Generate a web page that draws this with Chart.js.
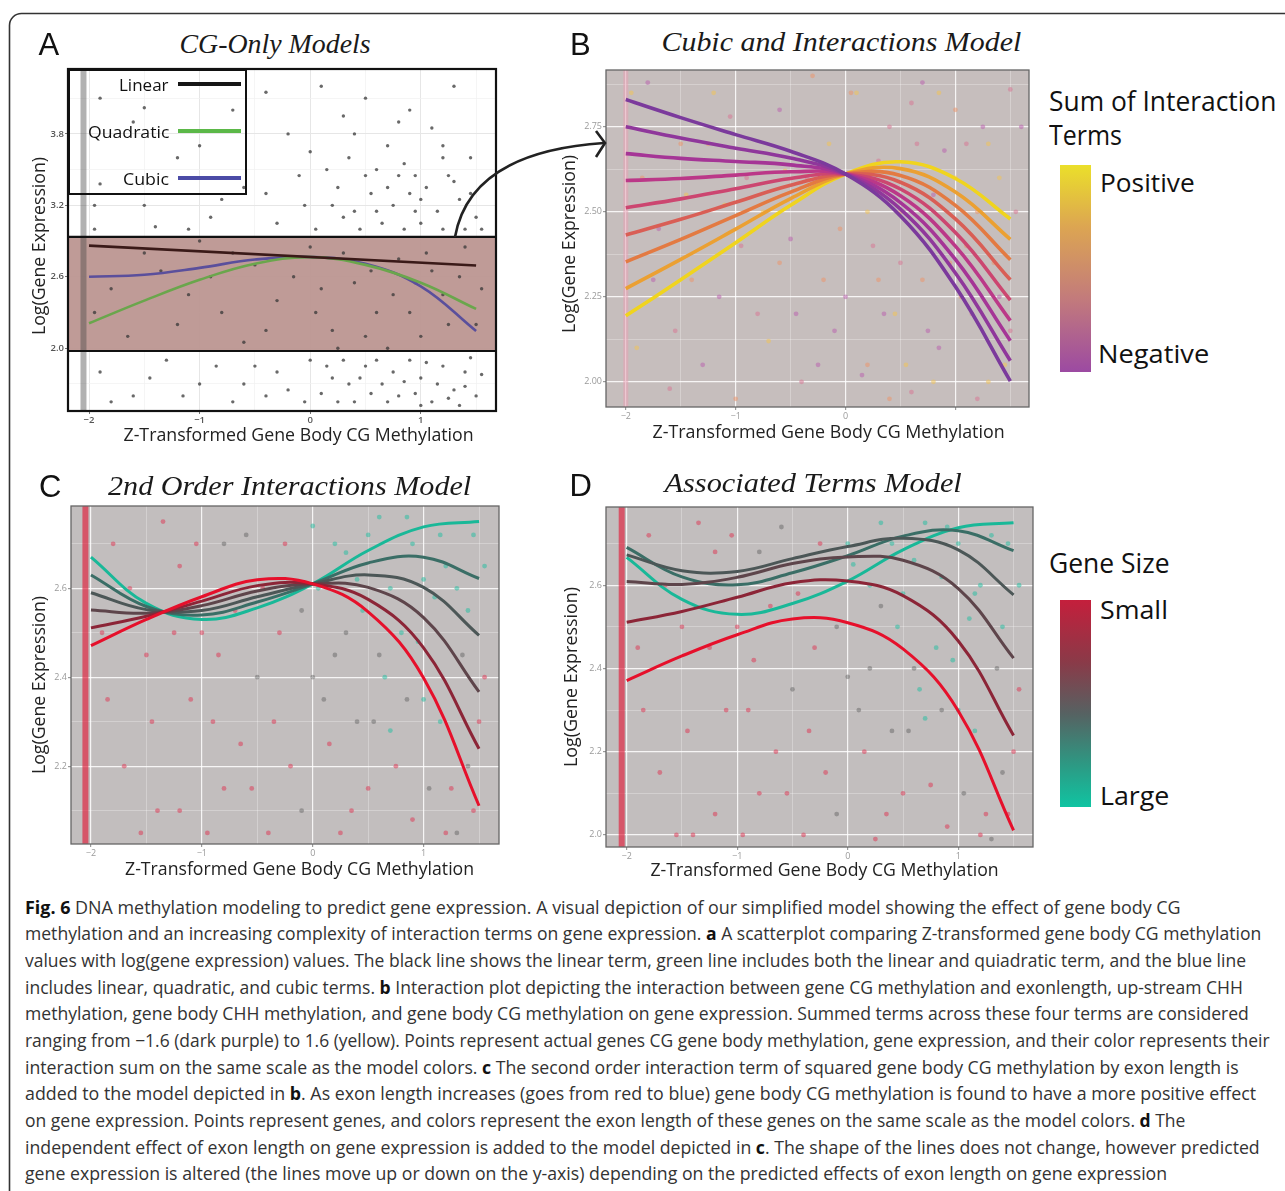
<!DOCTYPE html>
<html><head><meta charset="utf-8">
<script src="https://cdn.jsdelivr.net/npm/chart.js@4.4.1/dist/chart.umd.min.js"></script>
<style>
html,body{margin:0;padding:0;background:#fff;}
body{width:1285px;height:1191px;position:relative;overflow:hidden;font-family:"Open Sans",sans-serif;color:#222;}
canvas{position:absolute;}
.t{position:absolute;white-space:nowrap;line-height:1;left:0;top:0;}
.ser{font-family:"Liberation Serif",serif;font-style:italic;color:#1a1a1a;font-size:28px;}
.let{font-family:"Liberation Sans",Arial,sans-serif;color:#111;font-size:31px;}
.ax{font-family:"Open Sans",sans-serif;font-size:18px;color:#222;}
.leg{font-family:"Open Sans",sans-serif;color:#111;}
.cap{font-family:"Open Sans",sans-serif;font-size:18px;color:#333;}
.cap b{color:#111;}
.abs{position:absolute;}
svg.ov{position:absolute;left:0;top:0;z-index:3;pointer-events:none;}
</style></head><body>

<canvas id="cA" width="484" height="370" style="left:20px;top:60px"></canvas>
<canvas id="cB" width="465" height="365" style="left:570px;top:60px"></canvas>
<canvas id="cC" width="484" height="370" style="left:20px;top:496px"></canvas>
<canvas id="cD" width="468" height="370" style="left:570px;top:497px"></canvas>

<!-- Panel A legend box -->
<div class="abs" style="left:68px;top:69px;width:179px;height:126px;border:2px solid #111;box-sizing:border-box;z-index:2"></div>
<div class="abs" style="left:178px;top:82px;width:63px;height:4px;background:#161616;z-index:2"></div>
<div class="abs" style="left:178px;top:129px;width:63px;height:4px;background:#5bb848;z-index:2"></div>
<div class="abs" style="left:178px;top:176px;width:63px;height:4px;background:#4b4ba6;z-index:2"></div>

<!-- colour bars -->
<div class="abs" style="left:1060px;top:165px;width:31px;height:207px;background:linear-gradient(#ebdf2a,#dca552 30%,#c27a7c 65%,#9c4aa2)"></div>
<div class="abs" style="left:1060px;top:600px;width:31px;height:207px;background:linear-gradient(#c41f3c,#8a3a48 30%,#566262 55%,#2c9a84 80%,#10c4a2)"></div>

<svg class="ov" width="1285" height="1191">
  <rect x="9.5" y="13.5" width="1400" height="1300" rx="12" ry="12" fill="none" stroke="#333" stroke-width="1.6"/>
  <path d="M455,237 Q470,152 604,143" fill="none" stroke="#222" stroke-width="2.6"/>
  <polyline points="596,131 605,143 596,157" fill="none" stroke="#222" stroke-width="2.6"/>
</svg>

<!-- panel letters and titles -->
<div class="t let" data-x="49" data-y="44">A</div>
<div class="t let" data-x="580.5" data-y="44">B</div>
<div class="t let" data-x="50" data-y="486">C</div>
<div class="t let" data-x="580.5" data-y="485">D</div>
<div class="t ser" data-x="274.5" data-y="44" data-w="191">CG-Only Models</div>
<div class="t ser" data-x="841" data-y="42" data-w="360">Cubic and Interactions Model</div>
<div class="t ser" data-x="289" data-y="486" data-w="363">2nd Order Interactions Model</div>
<div class="t ser" data-x="813" data-y="483" data-w="297">Associated Terms Model</div>

<!-- axis titles -->
<div class="t ax" data-x="298.3" data-y="434" data-w="350">Z-Transformed Gene Body CG Methylation</div>
<div class="t ax" data-x="37.5" data-y="246" data-w="178" data-r="-90">Log(Gene Expression)</div>
<div class="t ax" data-x="828" data-y="431" data-w="352">Z-Transformed Gene Body CG Methylation</div>
<div class="t ax" data-x="567" data-y="244" data-w="178" data-r="-90">Log(Gene Expression)</div>
<div class="t ax" data-x="299.5" data-y="868" data-w="349">Z-Transformed Gene Body CG Methylation</div>
<div class="t ax" data-x="37.5" data-y="685" data-w="178" data-r="-90">Log(Gene Expression)</div>
<div class="t ax" data-x="824" data-y="869" data-w="348">Z-Transformed Gene Body CG Methylation</div>
<div class="t ax" data-x="569.5" data-y="677" data-w="180" data-r="-90">Log(Gene Expression)</div>

<!-- legend A texts -->
<div class="t leg" style="font-size:17px;z-index:2" data-a="r" data-x="169" data-y="84" data-w="50">Linear</div>
<div class="t leg" style="font-size:17px;z-index:2" data-a="r" data-x="169" data-y="131" data-w="81">Quadratic</div>
<div class="t leg" style="font-size:17px;z-index:2" data-a="r" data-x="169" data-y="178" data-w="46">Cubic</div>

<!-- legend B / D texts -->
<div class="t leg" style="font-size:28px" data-a="l" data-x="1048.6" data-y="100" data-w="227">Sum of Interaction</div>
<div class="t leg" style="font-size:28px" data-a="l" data-x="1048.6" data-y="134" data-w="73">Terms</div>
<div class="t leg" style="font-size:26px" data-a="l" data-x="1099.5" data-y="181.5" data-w="95">Positive</div>
<div class="t leg" style="font-size:26px" data-a="l" data-x="1098" data-y="353" data-w="111">Negative</div>
<div class="t leg" style="font-size:28px" data-a="l" data-x="1048.6" data-y="562" data-w="121">Gene Size</div>
<div class="t leg" style="font-size:26px" data-a="l" data-x="1099.5" data-y="609" data-w="68">Small</div>
<div class="t leg" style="font-size:26px" data-a="l" data-x="1099.5" data-y="795" data-w="69">Large</div>

<!-- caption -->
<div class="t cap" data-a="l" data-x="25" data-y="906.7" data-w="1156"><b>Fig. 6</b> DNA methylation modeling to predict gene expression. A visual depiction of our simplified model showing the effect of gene body CG</div>
<div class="t cap" data-a="l" data-x="25" data-y="933.3" data-w="1236">methylation and an increasing complexity of interaction terms on gene expression. <b>a</b> A scatterplot comparing Z-transformed gene body CG methylation</div>
<div class="t cap" data-a="l" data-x="25" data-y="960" data-w="1221">values with log(gene expression) values. The black line shows the linear term, green line includes both the linear and quiadratic term, and the blue line</div>
<div class="t cap" data-a="l" data-x="25" data-y="986.7" data-w="1218">includes linear, quadratic, and cubic terms. <b>b</b> Interaction plot depicting the interaction between gene CG methylation and exonlength, up-stream CHH</div>
<div class="t cap" data-a="l" data-x="25" data-y="1013.3" data-w="1224">methylation, gene body CHH methylation, and gene body CG methylation on gene expression. Summed terms across these four terms are considered</div>
<div class="t cap" data-a="l" data-x="25" data-y="1040" data-w="1245">ranging from −1.6 (dark purple) to 1.6 (yellow). Points represent actual genes CG gene body methylation, gene expression, and their color represents their</div>
<div class="t cap" data-a="l" data-x="25" data-y="1066.7" data-w="1214">interaction sum on the same scale as the model colors. <b>c</b> The second order interaction term of squared gene body CG methylation by exon length is</div>
<div class="t cap" data-a="l" data-x="25" data-y="1093.3" data-w="1231">added to the model depicted in <b>b</b>. As exon length increases (goes from red to blue) gene body CG methylation is found to have a more positive effect</div>
<div class="t cap" data-a="l" data-x="25" data-y="1120" data-w="1160">on gene expression. Points represent genes, and colors represent the exon length of these genes on the same scale as the model colors. <b>d</b> The</div>
<div class="t cap" data-a="l" data-x="25" data-y="1146.7" data-w="1235">independent effect of exon length on gene expression is added to the model depicted in <b>c</b>. The shape of the lines does not change, however predicted</div>
<div class="t cap" data-a="l" data-x="25" data-y="1173.3" data-w="1142">gene expression is altered (the lines move up or down on the y-axis) depending on the predicted effects of exon length on gene expression</div>

<script>
// ---------------- DATA ----------------
const curveX = [-2, -1.5, -1, -0.5, 0, 0.5, 1, 1.5];
const xMajorTicks = [-2, -1, 0, 1];
const xMajorLabels = ['−2', '−1', '0', '1'];
const xMajorLabelsB = ['−2', '−1', '0', ''];
const xMinorTicks = [-1.5, -0.5, 0.5, 1.5];

// Panel A
const aXRange = [-2.19, 1.68];
const aYRange = [1.473, 4.345];
const aYTicks = [2.0, 2.6, 3.2, 3.8];
const aYTickLabels = ['2.0', '2.6', '3.2', '3.8'];
const aYMinor = [1.7, 2.3, 2.9, 3.5, 4.1];
const aBand = [1.977, 2.936];
const aStripeX = -2.05;
const aLinearX = [-2, 1.5];
const aLinearY = [2.862, 2.695];
const aQuadraticY = [2.21, 2.40, 2.575, 2.71, 2.765, 2.70, 2.55, 2.33];
const aCubicY = [2.60, 2.617, 2.675, 2.745, 2.766, 2.71, 2.52, 2.145];
const aPoints = [
  [-1.9,4.1],[-1.6,3.9],[-1.5,4.02],[-1.0,3.7],[-0.7,4.0],[-0.4,4.15],[-0.2,3.8],[0.1,4.2],[0.3,3.95],[0.5,4.1],[0.7,3.7],[0.9,4.0],[1.1,3.85],[1.3,4.2],[1.45,3.6],
  [-1.9,3.38],[-1.5,3.2],[-1.2,3.6],[-0.9,3.1],[-0.6,3.35],[-0.3,3.05],[-0.1,3.45],[0.2,3.2],[0.35,3.6],[0.55,3.3],[0.65,3.05],[0.8,3.45],[0.95,3.15],[1.05,3.35],[1.2,3.0],[1.35,3.25],[1.5,3.1],[0.45,3.0],[0.75,3.2],[1.0,3.05],[0.15,3.5],[0.6,3.5],[0.9,3.3],[1.25,3.45],[1.4,3.0],[0.3,3.1],[0.85,3.0],
  [0.05,3.0],[0.25,3.35],[0.4,3.15],[0.5,3.45],[0.7,3.35],[0.85,3.55],[1.0,3.25],[1.15,3.15],[1.3,3.4],[1.45,3.3],[1.55,3.0],[0.6,3.15],[0.95,3.45],[1.2,3.6],[-0.05,3.2],[-0.4,3.3],[-0.8,3.25],[-1.1,3.0],[-1.4,3.02],[-1.95,3.0],[-1.95,3.2],[0.0,3.65],[0.4,3.8],[0.8,3.9],[1.2,3.7],
  [-1.9,1.8],[-1.6,1.6],[-1.3,1.9],[-1.0,1.7],[-0.7,1.55],[-0.5,1.85],[-0.2,1.65],[0.0,1.9],[0.2,1.75],[0.4,1.55],[0.5,1.85],[0.65,1.7],[0.8,1.6],[0.9,1.9],[1.0,1.75],[1.1,1.55],[1.2,1.85],[1.3,1.65],[1.4,1.8],[1.5,1.6],[-0.4,1.6],[0.3,1.9],[0.75,1.8],[1.15,1.7],[1.35,1.52],[0.95,1.62],[0.55,1.62],[1.45,1.92],
  [-1.8,1.55],[-1.45,1.75],[-1.15,1.6],[-0.85,1.85],[-0.6,1.7],[-0.3,1.8],[-0.05,1.55],[0.1,1.62],[0.25,1.55],[0.35,1.7],[0.45,1.75],[0.6,1.9],[0.7,1.55],[0.85,1.72],[1.05,1.88],[1.25,1.58],[1.4,1.68],[1.55,1.78],[1.0,1.52],[0.15,1.85],
  [-1.8,2.5],[-1.5,2.8],[-1.2,2.2],[-0.9,2.6],[-0.6,2.05],[-0.3,2.4],[0.0,2.85],[0.2,2.15],[0.4,2.55],[0.6,2.3],[0.8,2.75],[1.0,2.1],[1.2,2.45],[1.4,2.85],[1.5,2.2],[-1.0,2.9],[0.1,2.5],[0.7,2.0],[1.1,2.65],[-0.5,2.7],
  [-1.95,2.3],[-1.65,2.1],[-1.35,2.65],[-1.1,2.45],[-0.8,2.3],[-0.7,2.8],[-0.4,2.15],[-0.15,2.6],[0.05,2.3],[0.3,2.8],[0.5,2.1],[0.55,2.65],[0.75,2.45],[0.9,2.3],[1.05,2.8],[1.25,2.2],[1.35,2.6],[1.55,2.5],[0.25,2.0],[0.95,2.55]
];

// Panel B (nine interaction-sum levels, negative -> positive)
const bXRange = [-2.18, 1.67];
const bYRange = [1.926, 2.917];
const bYTicks = [2.0, 2.25, 2.5, 2.75];
const bYTickLabels = ['2.00', '2.25', '2.50', '2.75'];
const bYMinor = [2.125, 2.375, 2.625, 2.875];
const bStripeX = -2.0;
const bCurve1 = [2.830, 2.777, 2.727, 2.678, 2.611, 2.488, 2.280, 2.002];
const bCurve2 = [2.750, 2.717, 2.687, 2.658, 2.611, 2.508, 2.320, 2.062];
const bCurve3 = [2.671, 2.657, 2.648, 2.638, 2.611, 2.527, 2.360, 2.121];
const bCurve4 = [2.592, 2.598, 2.608, 2.618, 2.611, 2.547, 2.399, 2.180];
const bCurve5 = [2.512, 2.538, 2.568, 2.598, 2.611, 2.567, 2.439, 2.240];
const bCurve6 = [2.432, 2.478, 2.528, 2.578, 2.611, 2.587, 2.479, 2.300];
const bCurve7 = [2.353, 2.419, 2.489, 2.558, 2.611, 2.607, 2.519, 2.359];
const bCurve8 = [2.274, 2.360, 2.449, 2.539, 2.611, 2.627, 2.558, 2.419];
const bCurve9 = [2.194, 2.300, 2.409, 2.519, 2.611, 2.647, 2.598, 2.479];
const bPoints = [
  [-1.8,2.88],[-1.5,2.7],[-1.2,2.85],[-0.9,2.6],[-0.6,2.8],[-0.3,2.9],[0.1,2.85],[0.4,2.75],[0.7,2.88],[1.0,2.8],[1.3,2.7],[1.5,2.86],
  [-1.7,2.45],[-1.4,2.3],[-1.1,2.52],[-0.8,2.2],[-0.5,2.42],[-0.2,2.3],[0.2,2.5],[0.5,2.35],[0.8,2.55],[1.1,2.4],[1.4,2.6],[0.3,2.65],[0.9,2.68],[1.2,2.5],
  [-1.9,2.1],[-1.6,1.98],[-1.3,2.05],[-1.0,1.95],[-0.7,2.12],[-0.4,2.0],[-0.1,2.15],[0.2,2.05],[0.45,2.2],[0.6,1.97],[0.85,2.1],[1.05,2.25],[1.3,2.0],[1.5,2.15],[0.0,2.25],[0.7,2.3],
  [0.1,2.6],[0.25,2.4],[0.35,2.2],[0.5,2.5],[0.55,2.05],[0.65,2.7],[0.75,2.15],[0.95,2.35],[1.0,2.6],[1.15,2.2],[1.25,2.75],[1.35,2.35],[1.45,2.05],[1.55,2.5],[1.6,2.75],
  [-0.05,2.45],[-0.15,2.7],[-0.35,2.6],[-0.45,2.2],[-0.6,2.35],[-0.75,2.5],[-0.95,2.4],[-1.15,2.25],[-1.25,2.7],[-1.45,2.55],[-1.55,2.15],[-1.75,2.3],[-1.85,2.6],[-1.95,2.85],[-1.05,2.78],
  [0.15,2.02],[0.4,1.95],[0.85,2.85],[1.2,1.95],[-0.25,2.05],[0.05,2.85],[-0.55,2.62],[0.6,2.82],[1.4,2.25],[0.3,2.3],[0.8,2.0],[1.1,2.7]
];

// Panel C (exon length small -> large)
const cXRange = [-2.18, 1.68];
const cYRange = [2.025, 2.785];
const cYTicks = [2.2, 2.4, 2.6];
const cYTickLabels = ['2.2', '2.4', '2.6'];
const cYMinor = [2.1, 2.3, 2.5, 2.7];
const cStripeX = -2.05;
const cCurve1 = [2.471, 2.530, 2.581, 2.619, 2.610, 2.547, 2.398, 2.111];
const cCurve2 = [2.511, 2.537, 2.571, 2.606, 2.610, 2.575, 2.466, 2.239];
const cCurve3 = [2.551, 2.544, 2.561, 2.594, 2.610, 2.602, 2.534, 2.367];
const cCurve4 = [2.590, 2.552, 2.550, 2.581, 2.610, 2.630, 2.602, 2.494];
const cCurve5 = [2.630, 2.559, 2.540, 2.569, 2.610, 2.657, 2.670, 2.622];
const cCurve6 = [2.670, 2.566, 2.530, 2.556, 2.610, 2.685, 2.738, 2.750];
const cPoints = [
  [-1.8,2.7,0],[-1.5,2.45,0],[-1.2,2.65,0],[-0.9,2.3,0],[-0.6,2.72,1],[-0.3,2.5,0],[0.0,2.74,2],[0.3,2.68,2],[0.6,2.76,2],[0.9,2.7,2],[1.2,2.65,2],[1.45,2.72,2],[0.45,2.55,2],[0.8,2.5,2],[1.1,2.58,2],[1.35,2.45,1],
  [-1.7,2.2,0],[-1.4,2.1,0],[-1.1,2.35,0],[-0.8,2.15,0],[-0.5,2.4,1],[-0.2,2.2,0],[0.1,2.35,1],[0.35,2.1,0],[0.55,2.3,1],[0.75,2.2,0],[1.0,2.35,2],[1.25,2.15,0],[1.5,2.3,0],[-1.9,2.5,0],[-1.0,2.5,0],[0.2,2.45,1],[0.65,2.4,2],[1.3,2.05,1],[-0.4,2.05,0],[0.9,2.08,0],
  [0.05,2.6,2],[0.2,2.7,2],[0.4,2.62,2],[0.5,2.72,2],[0.7,2.6,2],[0.85,2.76,2],[1.0,2.62,2],[1.15,2.72,2],[1.3,2.6,2],[1.55,2.65,2],[1.4,2.55,2],[0.95,2.48,2],[0.6,2.45,1],[0.3,2.5,1],[0.15,2.25,0],[0.4,2.3,1],[0.7,2.28,2],[0.85,2.35,1],[1.15,2.3,2],[1.4,2.2,1],[1.55,2.4,0],[1.05,2.15,1],[0.5,2.15,0],[0.25,2.05,0],[1.2,2.05,0],[1.45,2.1,0],
  [-0.1,2.55,1],[-0.25,2.7,0],[-0.45,2.6,0],[-0.7,2.55,0],[-0.85,2.45,0],[-1.05,2.7,0],[-1.25,2.5,0],[-1.45,2.3,0],[-1.65,2.6,0],[-1.85,2.35,0],[-1.55,2.05,0],[-1.2,2.1,0],[-0.95,2.05,0],[-0.65,2.25,0],[-0.35,2.3,0],[-0.1,2.1,1],[0.0,2.4,1],[-0.55,2.15,0],[-1.35,2.75,0],[-0.8,2.7,1]
];

// Panel D (gene size small -> large)
const dXRange = [-2.187, 1.676];
const dYRange = [1.971, 2.788];
const dYTicks = [2.0, 2.2, 2.4, 2.6];
const dYTickLabels = ['2.0', '2.2', '2.4', '2.6'];
const dYMinor = [2.1, 2.3, 2.5, 2.7];
const dStripeX = -2.045;
const dCurve1 = [2.371, 2.430, 2.481, 2.519, 2.510, 2.447, 2.298, 2.011];
const dCurve2 = [2.511, 2.537, 2.571, 2.606, 2.610, 2.575, 2.466, 2.239];
const dCurve3 = [2.609, 2.602, 2.619, 2.652, 2.668, 2.660, 2.592, 2.425];
const dCurve4 = [2.673, 2.635, 2.633, 2.664, 2.693, 2.713, 2.685, 2.577];
const dCurve5 = [2.691, 2.620, 2.601, 2.630, 2.671, 2.718, 2.731, 2.683];
const dCurve6 = [2.667, 2.566, 2.530, 2.556, 2.610, 2.685, 2.738, 2.750];
const dPoints = [
  [-1.8,2.72,0],[-1.5,2.5,0],[-1.2,2.68,0],[-0.9,2.3,0],[-0.6,2.74,1],[-0.3,2.45,0],[0.0,2.7,2],[0.3,2.75,2],[0.6,2.66,2],[0.9,2.74,2],[1.2,2.6,2],[1.45,2.7,2],[0.45,2.5,2],[0.8,2.45,2],[1.1,2.52,2],[1.35,2.4,1],
  [-1.7,2.15,0],[-1.4,2.0,0],[-1.1,2.3,0],[-0.8,2.1,0],[-0.5,2.35,1],[-0.2,2.15,0],[0.1,2.3,1],[0.35,2.05,0],[0.55,2.25,1],[0.75,2.12,0],[1.0,2.3,2],[1.25,2.05,0],[1.5,2.2,0],[-1.9,2.45,0],[-1.0,2.5,0],[0.2,2.4,1],[0.65,2.35,2],[1.3,1.99,1],[-0.4,2.0,0],[0.9,2.02,0],
  [0.05,2.65,2],[0.2,2.6,2],[0.4,2.7,2],[0.5,2.58,2],[0.7,2.75,2],[0.85,2.62,2],[1.0,2.7,2],[1.15,2.58,2],[1.3,2.72,2],[1.55,2.6,2],[1.4,2.5,2],[0.95,2.42,2],[0.6,2.4,1],[0.3,2.55,1],[0.15,2.2,0],[0.4,2.25,1],[0.7,2.28,2],[0.85,2.3,1],[1.15,2.25,2],[1.4,2.15,1],[1.55,2.35,0],[1.05,2.1,1],[0.5,2.1,0],[0.25,1.99,0],[1.2,2.0,0],[1.45,2.05,0],
  [-0.1,2.5,1],[-0.25,2.7,0],[-0.45,2.58,0],[-0.7,2.55,0],[-0.85,2.42,0],[-1.05,2.72,0],[-1.25,2.45,0],[-1.45,2.25,0],[-1.65,2.6,0],[-1.85,2.3,0],[-1.55,2.0,0],[-1.2,2.05,0],[-0.95,2.0,0],[-0.65,2.2,0],[-0.35,2.25,0],[-0.1,2.05,1],[0.0,2.38,1],[-0.55,2.1,0],[-1.35,2.75,0],[-0.8,2.68,1]
];

// ---------------- STYLE ----------------
const bColors = ['#7b3a9c','#8f379b','#a53596','#bb3888','#cc4670','#d95e55','#e37a42','#eba032','#f0d41e'];
const cdColors = ['#e6102b','#8c2537','#5e454b','#4c5757','#3a6e66','#19b898'];
const bPointPalette = ['rgba(185,100,175,0.55)','rgba(235,150,110,0.55)','rgba(240,195,90,0.55)','rgba(215,120,150,0.55)'];
const cdPointColors = ['rgba(222,50,80,0.5)','rgba(80,80,80,0.4)','rgba(30,190,160,0.5)'];

Chart.defaults.font.family = '"Open Sans", sans-serif';

const xy = (xs, ys) => xs.map((x, i) => ({x, y: ys[i]}));

const panelPlugin = {
  id: 'panel',
  beforeDraw(chart, args, o) {
    const {ctx, chartArea: a} = chart;
    ctx.save(); ctx.fillStyle = o.bg; ctx.fillRect(a.left, a.top, a.right - a.left, a.bottom - a.top); ctx.restore();
  },
  afterDraw(chart, args, o) {
    const {ctx, chartArea: a} = chart;
    ctx.save(); ctx.strokeStyle = o.frame; ctx.lineWidth = o.frameWidth;
    ctx.strokeRect(a.left, a.top, a.right - a.left, a.bottom - a.top); ctx.restore();
  }
};

function axis(range, majors, labels, minors, st, size) {
  return {
    type: 'linear', min: range[0], max: range[1],
    afterBuildTicks: s => {
      s.ticks = majors.map((v, i) => ({value: v, mj: true, lab: labels[i]}))
        .concat(minors.map(v => ({value: v, mj: false, lab: ''})))
        .sort((a, b) => a.value - b.value);
    },
    afterFit: s => { if (s.isHorizontal()) s.height = size; else s.width = size; },
    ticks: {autoSkip: false, maxRotation: 0, minRotation: 0, padding: st.pad,
      color: st.tickColor, font: {size: st.fs, weight: st.fw},
      callback: (v, i, t) => t[i].lab},
    grid: {
      color: c => (c.tick && c.tick.mj) ? st.major : st.minor,
      lineWidth: c => (c.tick && c.tick.mj) ? st.majW : st.minW,
      tickLength: 3,
      tickColor: c => (c.tick && c.tick.mj) ? st.tickMark : 'rgba(0,0,0,0)'
    },
    border: {display: false}
  };
}

function makeChart(id, cfg) {
  return new Chart(document.getElementById(id), {
    type: 'scatter',
    data: {datasets: cfg.datasets},
    options: {
      responsive: false, maintainAspectRatio: false, animation: false, devicePixelRatio: 1,
      events: [],
      layout: {padding: {top: cfg.padTop, right: cfg.padRight, left: 0, bottom: 0}},
      plugins: {legend: {display: false}, tooltip: {enabled: false}, panel: cfg.panel},
      scales: {x: cfg.x, y: cfg.y}
    },
    plugins: [panelPlugin]
  });
}

const curveDS = (ys, color, w, order) => ({data: xy(curveX, ys), showLine: true, borderColor: color, borderWidth: w,
  pointRadius: 0, tension: 0.4, fill: false, order: order});
const stripeDS = (x, yr, color, w) => ({data: [{x, y: yr[0]}, {x, y: yr[1]}], showLine: true, borderColor: color,
  borderWidth: w, pointRadius: 0, fill: false, order: 6});

const ggStyle = {pad: 1, tickColor: '#9a9a9a', fs: 9, fw: 'normal', major: 'rgba(255,255,255,0.85)', minor: 'rgba(255,255,255,0.4)',
  majW: 1.2, minW: 0.7, tickMark: '#9a9a9a'};
const aStyle = {pad: 1, tickColor: '#555', fs: 9.5, fw: '600', major: '#e6e6e6', minor: '#f1f1f1', majW: 1, minW: 0.7, tickMark: '#777'};

// Panel A
makeChart('cA', {
  padTop: 9, padRight: 8,
  panel: {bg: '#ffffff', frame: '#111', frameWidth: 2.2},
  x: axis(aXRange, xMajorTicks, xMajorLabels, xMinorTicks, aStyle, 19),
  y: axis(aYRange, aYTicks, aYTickLabels, aYMinor, aStyle, 48),
  datasets: [
    {data: [{x: aXRange[0], y: aBand[1]}, {x: aXRange[1], y: aBand[1]}], showLine: true, borderWidth: 0, pointRadius: 0,
      fill: {value: aBand[0]}, backgroundColor: 'rgba(188,150,145,0.95)', order: 10},
    {data: aPoints.map(p => ({x: p[0], y: p[1]})), pointRadius: 1.7, pointBorderWidth: 0, backgroundColor: 'rgba(55,55,55,0.75)', order: 7},
    stripeDS(aStripeX, aYRange, 'rgba(70,70,70,0.42)', 6),
    {data: [{x: aXRange[0], y: aBand[1]}, {x: aXRange[1], y: aBand[1]}], showLine: true, borderColor: '#111', borderWidth: 2.2, pointRadius: 0, order: 1},
    {data: [{x: aXRange[0], y: aBand[0]}, {x: aXRange[1], y: aBand[0]}], showLine: true, borderColor: '#111', borderWidth: 2.2, pointRadius: 0, order: 1},
    {data: xy(aLinearX, aLinearY), showLine: true, borderColor: '#3a1a18', borderWidth: 2.6, pointRadius: 0, order: 0},
    curveDS(aQuadraticY, '#6aa64c', 2.6, 0),
    curveDS(aCubicY, '#5a4f9c', 2.6, 0)
  ]
});

// Panel B
const bCurves = [bCurve1, bCurve2, bCurve3, bCurve4, bCurve5, bCurve6, bCurve7, bCurve8, bCurve9];
makeChart('cB', {
  padTop: 10, padRight: 6,
  panel: {bg: '#c6bebd', frame: '#666', frameWidth: 1.3},
  x: axis(bXRange, xMajorTicks, xMajorLabelsB, xMinorTicks, ggStyle, 18),
  y: axis(bYRange, bYTicks, bYTickLabels, bYMinor, ggStyle, 36),
  datasets: [
    {data: bPoints.map(p => ({x: p[0], y: p[1]})), pointRadius: 2.4, pointBorderWidth: 0,
      backgroundColor: c => bPointPalette[c.dataIndex % 4], order: 7},
    stripeDS(bStripeX, bYRange, 'rgba(232,160,180,0.55)', 5)
  ].concat(bCurves.map((ys, i) => curveDS(ys, bColors[i], 3.6, 0)))
});

// Panel C
const cCurves = [cCurve1, cCurve2, cCurve3, cCurve4, cCurve5, cCurve6];
makeChart('cC', {
  padTop: 10, padRight: 5,
  panel: {bg: '#c2bebe', frame: '#666', frameWidth: 1.3},
  x: axis(cXRange, xMajorTicks, xMajorLabels, xMinorTicks, ggStyle, 22),
  y: axis(cYRange, cYTicks, cYTickLabels, cYMinor, ggStyle, 51),
  datasets: [
    {data: cPoints.map(p => ({x: p[0], y: p[1], c: p[2]})), pointRadius: 2.4, pointBorderWidth: 0,
      backgroundColor: c => cdPointColors[c.raw.c], order: 7},
    stripeDS(cStripeX, cYRange, 'rgba(225,30,60,0.65)', 6)
  ].concat(cCurves.map((ys, i) => curveDS(ys, cdColors[i], 3, 0)))
});

// Panel D
const dCurves = [dCurve1, dCurve2, dCurve3, dCurve4, dCurve5, dCurve6];
makeChart('cD', {
  padTop: 10, padRight: 5,
  panel: {bg: '#c2bebe', frame: '#666', frameWidth: 1.3},
  x: axis(dXRange, xMajorTicks, xMajorLabels, xMinorTicks, ggStyle, 20),
  y: axis(dYRange, dYTicks, dYTickLabels, dYMinor, ggStyle, 36),
  datasets: [
    {data: dPoints.map(p => ({x: p[0], y: p[1], c: p[2]})), pointRadius: 2.4, pointBorderWidth: 0,
      backgroundColor: c => cdPointColors[c.raw.c], order: 7},
    stripeDS(dStripeX, dYRange, 'rgba(225,30,60,0.65)', 6)
  ].concat(dCurves.map((ys, i) => curveDS(ys, cdColors[i], 3, 0)))
});

// ---------------- TEXT PLACEMENT ----------------
function placeTexts() {
  document.querySelectorAll('.t').forEach(el => {
    const x = +el.dataset.x, y = +el.dataset.y, w = +(el.dataset.w || 0);
    const rot = +(el.dataset.r || 0);
    const anchor = el.dataset.a || 'c';
    const nw = el.offsetWidth, nh = el.offsetHeight;
    const k = w ? w / nw : 1;
    el.style.top = (y - nh / 2) + 'px';
    if (anchor === 'l') {
      el.style.left = x + 'px'; el.style.transformOrigin = '0 50%'; el.style.transform = `scaleX(${k})`;
    } else if (anchor === 'r') {
      el.style.left = (x - nw) + 'px'; el.style.transformOrigin = '100% 50%'; el.style.transform = `scaleX(${k})`;
    } else {
      el.style.left = (x - nw / 2) + 'px'; el.style.transformOrigin = '50% 50%';
      el.style.transform = `rotate(${rot}deg) scaleX(${k})`;
    }
  });
}
placeTexts();
if (document.fonts && document.fonts.ready) document.fonts.ready.then(placeTexts);
</script>
</body></html>
